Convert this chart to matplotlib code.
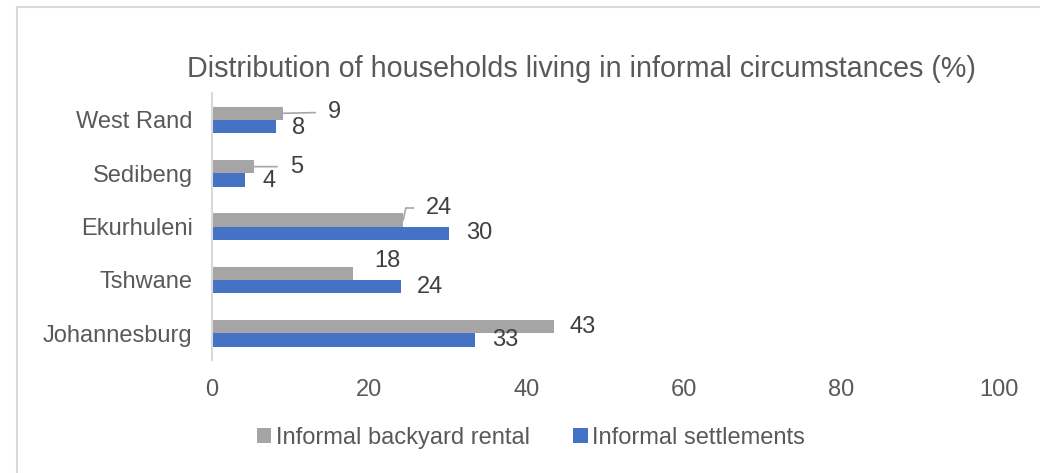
import matplotlib
matplotlib.use("Agg")
import matplotlib.pyplot as plt
from matplotlib.patches import Patch
from matplotlib.lines import Line2D

plt.rcParams['font.family'] = ['Liberation Sans', 'DejaVu Sans']

# Municipalities, bottom to top
categories = ["Johannesburg", "Tshwane", "Ekurhuleni", "Sedibeng", "West Rand"]
backyard_rental = [43.4, 17.9, 24.3, 5.3, 9.0]
informal_settlements = [33.4, 24.0, 30.1, 4.2, 8.1]
series_names = ["Informal backyard rental", "Informal settlements"]
x_ticks = [0, 20, 40, 60, 80, 100]
title = "Distribution of households living in informal circumstances (%)"

GRAY = "#A5A5A5"
BLUE = "#4472C4"
TEXT = "#595959"
LABEL = "#404040"
LINE = "#D9D9D9"
FS = 17

fig = plt.figure(figsize=(10.4, 4.73), dpi=100)
W, H = 1040, 473
ax = fig.add_axes([212 / W, 1 - 360 / H, (999 - 212) / W, (360 - 93.3) / H])

h = 0.25
ypos = list(range(len(categories)))
y_gray = [y + h / 2 for y in ypos]
y_blue = [y - h / 2 for y in ypos]
ax.barh(y_gray, backyard_rental, height=h, color=GRAY)
ax.barh(y_blue, informal_settlements, height=h, color=BLUE)

ax.set_xlim(0, 100)
ax.set_ylim(-0.5, len(categories) - 0.5)
ax.set_xticks(x_ticks)
ax.set_xticklabels([str(t) for t in x_ticks])
ax.set_yticks(ypos)
ax.set_yticklabels(categories)
ax.tick_params(axis='both', length=0, labelsize=FS, labelcolor=TEXT)
ax.tick_params(axis='x', pad=14)
ax.tick_params(axis='y', pad=14)
for s in ["top", "right", "bottom"]:
    ax.spines[s].set_visible(False)
ax.spines["left"].set_color(LINE)
ax.spines["left"].set_linewidth(1.5)

# Data labels: (right, up) offsets in pixels from the bar end; some use leader lines
gray_offsets = [(16, 0), (21, 12), (23, 12), (36, 0), (45, 1)]
gray_leader = [None, None, "angle", "straight", "straight"]
blue_offsets = [(17, 0), (16, 0), (17, 0), (17, -1), (16, -1)]

for i, v in enumerate(backyard_rental):
    dx, dy = gray_offsets[i]
    kw = {}
    if gray_leader[i] == "straight":
        kw["arrowprops"] = dict(arrowstyle='-', color="#A6A6A6", lw=1.2,
                                shrinkA=7, shrinkB=0, relpos=(0, 0.5))
    elif gray_leader[i] == "angle":
        kw["arrowprops"] = dict(arrowstyle='-', color="#A6A6A6", lw=1.2,
                                shrinkA=7, shrinkB=0, relpos=(0, 0.5),
                                connectionstyle="angle,angleA=180,angleB=78,rad=0")
    ax.annotate(f"{v:.0f}", xy=(v, y_gray[i]), xytext=(dx, dy),
                textcoords="offset pixels", ha="left", va="center",
                fontsize=FS, color=LABEL, **kw)

for i, v in enumerate(informal_settlements):
    dx, dy = blue_offsets[i]
    ax.annotate(f"{v:.0f}", xy=(v, y_blue[i]), xytext=(dx, dy),
                textcoords="offset pixels", ha="left", va="center",
                fontsize=FS, color=LABEL)

fig.text(581 / W, 1 - 77 / H, title, ha="center", va="baseline",
         fontsize=20.7, color=TEXT)

handles = [Patch(facecolor=GRAY), Patch(facecolor=BLUE)]
fig.legend(handles, series_names, loc="center", bbox_to_anchor=(531 / W, 1 - 438 / H),
           ncol=2, frameon=False, fontsize=FS, labelcolor=TEXT,
           handlelength=0.6, handleheight=0.6, handletextpad=0.2,
           columnspacing=1.85, borderaxespad=0)

# Outer chart frame (left and top edges)
fig.add_artist(Line2D([16.5 / W, 16.5 / W], [0, 1 - 7 / H], transform=fig.transFigure,
                      color=LINE, lw=1.5))
fig.add_artist(Line2D([16.5 / W, 1], [1 - 7 / H, 1 - 7 / H], transform=fig.transFigure,
                      color=LINE, lw=1.5))

fig.savefig("out.png", dpi=100, facecolor="white")
